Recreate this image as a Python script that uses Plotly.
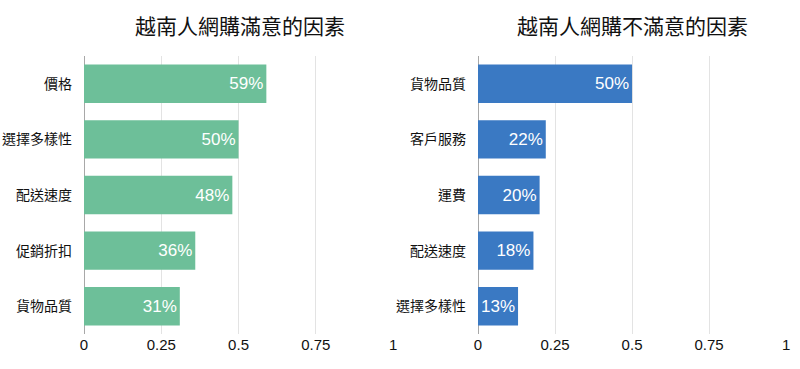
import plotly.graph_objects as go

left_title = "越南人網購滿意的因素"
right_title = "越南人網購不滿意的因素"
left_categories = ["價格", "選擇多樣性", "配送速度", "促銷折扣", "貨物品質"]
left_values = [0.59, 0.50, 0.48, 0.36, 0.31]
right_categories = ["貨物品質", "客戶服務", "運費", "配送速度", "選擇多樣性"]
right_values = [0.50, 0.22, 0.20, 0.18, 0.13]
tick_vals = [0, 0.25, 0.5, 0.75, 1]
tick_text = ["0", "0.25", "0.5", "0.75", "1"]

GREEN = "#6dbf99"
BLUE = "#3a79c3"
FONT = "Liberation Sans, Noto Sans CJK TC, sans-serif"

W, H = 800, 369

fig = go.Figure()
fig.add_trace(go.Bar(
    x=left_values, y=left_categories, orientation="h",
    marker=dict(color=GREEN, line=dict(width=0)),
    texttemplate="%{x:.0%}", textposition="inside", insidetextanchor="end",
    textfont=dict(color="white", size=17, family=FONT),
    xaxis="x", yaxis="y", hoverinfo="skip"))
fig.add_trace(go.Bar(
    x=right_values, y=right_categories, orientation="h",
    marker=dict(color=BLUE, line=dict(width=0)),
    texttemplate="%{x:.0%}", textposition="inside", insidetextanchor="end",
    textfont=dict(color="white", size=17, family=FONT),
    xaxis="x2", yaxis="y2", hoverinfo="skip"))

xcommon = dict(range=[0, 1.003], tickvals=tick_vals, ticktext=tick_text,
               showgrid=True, gridcolor="#e3e3e3", gridwidth=1,
               zeroline=True, zerolinecolor="#a8a8a8", zerolinewidth=1,
               tickfont=dict(size=15, color="#111", family=FONT),
               showline=False, ticks="", fixedrange=True, automargin=False)
ycommon = dict(autorange="reversed", showgrid=False, zeroline=False,
               tickfont=dict(size=14, color="#111", family=FONT),
               ticks="", ticklabelstandoff=11, fixedrange=True, domain=[0, 1],
               automargin=False)

top = 56
bottom = H - 334
plot_h = H - top - bottom
title_y = 1 + (top - 27) / plot_h

fig.update_layout(
    width=W, height=H,
    margin=dict(l=0, r=0, t=top, b=bottom),
    paper_bgcolor="white", plot_bgcolor="white",
    showlegend=False, bargap=0.31,
    xaxis=dict(domain=[84/W, 394/W], anchor="y", **xcommon),
    yaxis=dict(anchor="x", **ycommon),
    xaxis2=dict(domain=[478/W, 787/W], anchor="y2", **xcommon),
    yaxis2=dict(anchor="x2", **ycommon),
    annotations=[
        dict(text=left_title, x=240/W, y=title_y, xref="paper", yref="paper",
             xanchor="center", yanchor="middle", showarrow=False,
             font=dict(size=21, color="#111", family=FONT)),
        dict(text=right_title, x=632/W, y=title_y, xref="paper", yref="paper",
             xanchor="center", yanchor="middle", showarrow=False,
             font=dict(size=21, color="#111", family=FONT)),
    ],
)

fig.write_html(
    "out.html",
    config={"displayModeBar": False, "staticPlot": True},
    post_script="document.body.style.margin='0';document.body.style.overflow='hidden';",
)
